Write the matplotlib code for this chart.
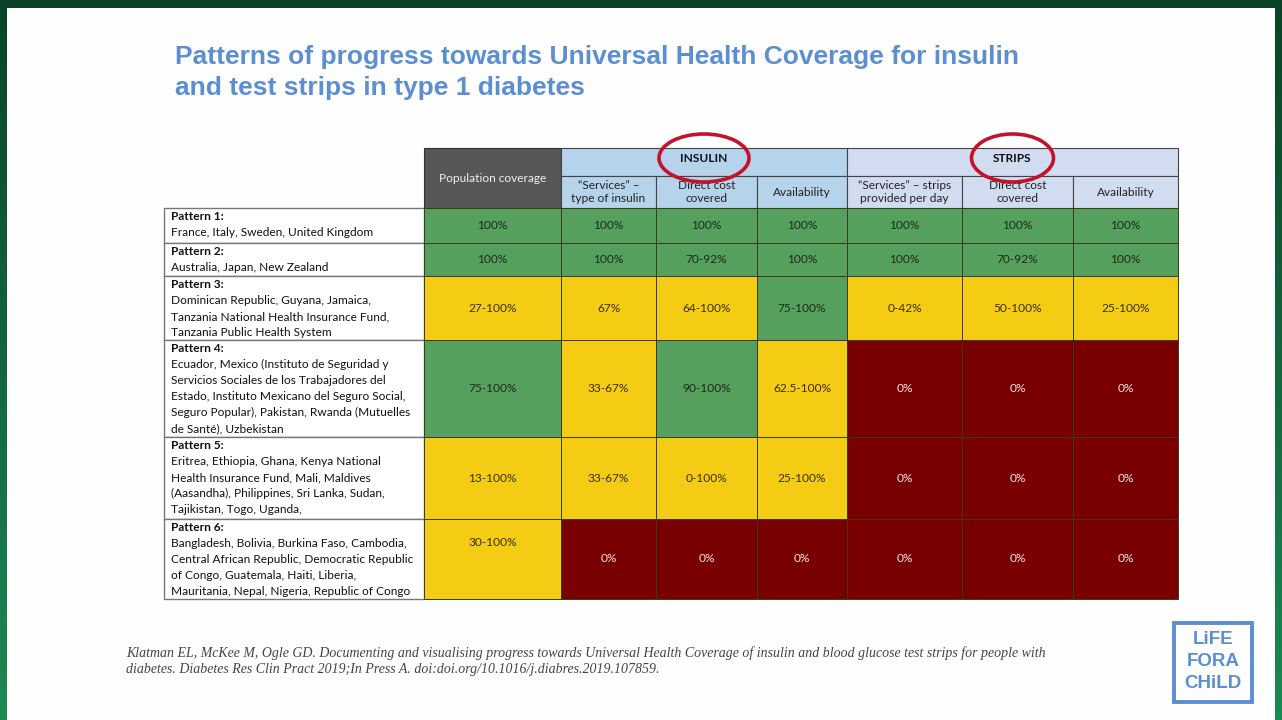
import matplotlib
matplotlib.use("Agg")
import matplotlib.pyplot as plt
import numpy as np
from matplotlib.patches import Rectangle, Ellipse
from matplotlib.colors import LinearSegmentedColormap

# ---------------- data ----------------
title_lines = ["Patterns of progress towards Universal Health Coverage for insulin",
               "and test strips in type 1 diabetes"]
group_labels = ["INSULIN", "STRIPS"]
column_labels = ["Population coverage",
                 "\u201cServices\u201d \u2013\ntype of insulin", "Direct cost\ncovered", "Availability",
                 "\u201cServices\u201d \u2013 strips\nprovided per day", "Direct cost\ncovered", "Availability"]
pattern_names = ["Pattern 1:", "Pattern 2:", "Pattern 3:", "Pattern 4:", "Pattern 5:", "Pattern 6:"]
pattern_countries = [
    ["France, Italy, Sweden, United Kingdom"],
    ["Australia, Japan, New Zealand"],
    ["Dominican Republic, Guyana, Jamaica,",
     "Tanzania National Health Insurance Fund,",
     "Tanzania Public Health System"],
    ["Ecuador, Mexico (Instituto de Seguridad y",
     "Servicios Sociales de los Trabajadores del",
     "Estado, Instituto Mexicano del Seguro Social,",
     "Seguro Popular), Pakistan, Rwanda (Mutuelles",
     "de Sant\u00e9), Uzbekistan"],
    ["Eritrea, Ethiopia, Ghana, Kenya National",
     "Health Insurance Fund, Mali, Maldives",
     "(Aasandha), Philippines, Sri Lanka, Sudan,",
     "Tajikistan, Togo, Uganda,"],
    ["Bangladesh, Bolivia, Burkina Faso, Cambodia,",
     "Central African Republic, Democratic Republic",
     "of Congo, Guatemala, Haiti, Liberia,",
     "Mauritania, Nepal, Nigeria, Republic of Congo"],
]
cell_values = [
    ["100%", "100%", "100%", "100%", "100%", "100%", "100%"],
    ["100%", "100%", "70-92%", "100%", "100%", "70-92%", "100%"],
    ["27-100%", "67%", "64-100%", "75-100%", "0-42%", "50-100%", "25-100%"],
    ["75-100%", "33-67%", "90-100%", "62.5-100%", "0%", "0%", "0%"],
    ["13-100%", "33-67%", "0-100%", "25-100%", "0%", "0%", "0%"],
    ["30-100%", "0%", "0%", "0%", "0%", "0%", "0%"],
]
# G = full coverage (green), Y = partial (yellow), R = none (red)
cell_status = [
    ["G", "G", "G", "G", "G", "G", "G"],
    ["G", "G", "G", "G", "G", "G", "G"],
    ["Y", "Y", "Y", "G", "Y", "Y", "Y"],
    ["G", "Y", "G", "Y", "R", "R", "R"],
    ["Y", "Y", "Y", "Y", "R", "R", "R"],
    ["Y", "R", "R", "R", "R", "R", "R"],
]
citation_lines = [
    "Klatman EL, McKee M, Ogle GD. Documenting and visualising progress towards Universal Health Coverage of insulin and blood glucose test strips for people with",
    "diabetes. Diabetes Res Clin Pract 2019;In Press A. doi:doi.org/10.1016/j.diabres.2019.107859.",
]
logo_lines = ["LiFE", "FORA", "CHiLD"]

# ---------------- style / layout ----------------
status_colors = {"G": "#55a05d", "Y": "#f5cc14", "R": "#780000"}
text_colors = {"G": "#1c2a1c", "Y": "#3a3000", "R": "#f2e6e6"}
blue = "#5b8fd2"
sans = ["Lato", "DejaVu Sans"]
fs = 8.6

col_edges = [164, 424, 561, 656, 757, 847, 962, 1073, 1178]
row_edges = [148, 176, 208, 243, 276, 340, 437, 519, 599]

W, H = 1282, 720
fig = plt.figure(figsize=(W / 100, H / 100), dpi=100)
ax = fig.add_axes([0, 0, 1, 1])
ax.set_xlim(0, W)
ax.set_ylim(H, 0)
ax.axis("off")

# slide frame (vertical gradient green behind white slide)
frame_cmap = LinearSegmentedColormap.from_list("frame", ["#0a4326", "#1c8a55"])
ax.imshow(np.linspace(0, 1, 256).reshape(-1, 1), cmap=frame_cmap, aspect="auto",
          extent=[0, W, H, 0], zorder=0)
ax.add_patch(Rectangle((7, 8), 1268, 712, facecolor="#fefefe", edgecolor="none", zorder=0.5))

# title
for i, line in enumerate(title_lines):
    ax.text(175, 57 + i * 31, line, fontsize=19, fontweight="bold", color=blue,
            family=["Liberation Sans", "DejaVu Sans"], va="center", ha="left")

# header
x0, x1 = col_edges[1], col_edges[2]
ax.add_patch(Rectangle((x0, row_edges[0]), x1 - x0, row_edges[2] - row_edges[0],
                       facecolor="#575757", edgecolor="#333333", lw=0.8, zorder=2))
ax.text((x0 + x1) / 2, (row_edges[0] + row_edges[2]) / 2, column_labels[0], color="#f0f0f0",
        fontsize=fs, family=sans, ha="center", va="center", zorder=3)

group_spans = [(2, 5), (5, 8)]
group_colors = ["#b6d3ec", "#d2dcf0"]
ellipse_sizes = [(90, 48), (82, 48)]
for g, (a, b) in enumerate(group_spans):
    gx0, gx1 = col_edges[a], col_edges[b]
    ax.add_patch(Rectangle((gx0, row_edges[0]), gx1 - gx0, row_edges[1] - row_edges[0],
                           facecolor=group_colors[g], edgecolor="#444444", lw=0.8, zorder=2))
    cx = (gx0 + gx1) / 2
    cy = (row_edges[0] + row_edges[1]) / 2
    ax.text(cx, cy - 3, group_labels[g], fontsize=fs, fontweight="bold", family=sans,
            color="#111111", ha="center", va="center", zorder=3)
    ew, eh = ellipse_sizes[g]
    ax.add_patch(Ellipse((cx, cy - 4), ew, eh, facecolor="none", edgecolor="#c4122c",
                         lw=2.6, zorder=5))
    for c in range(a, b):
        ax.add_patch(Rectangle((col_edges[c], row_edges[1]), col_edges[c + 1] - col_edges[c],
                               row_edges[2] - row_edges[1], facecolor=group_colors[g],
                               edgecolor="#444444", lw=0.8, zorder=2))
        ax.text((col_edges[c] + col_edges[c + 1]) / 2, (row_edges[1] + row_edges[2]) / 2,
                column_labels[c - 1], fontsize=fs, family=sans, color="#222222",
                ha="center", va="center", linespacing=1.2, zorder=3)

# body
for r in range(len(pattern_names)):
    y0, y1 = row_edges[r + 2], row_edges[r + 3]
    ax.add_patch(Rectangle((col_edges[0], y0), col_edges[1] - col_edges[0], y1 - y0,
                           facecolor="white", edgecolor="#777777", lw=1.0, zorder=2))
    ax.text(171, y0 + 8.5, pattern_names[r], fontsize=fs, fontweight="bold", family=sans,
            color="#111111", ha="left", va="center", zorder=3)
    for k, line in enumerate(pattern_countries[r]):
        ax.text(171, y0 + 8.5 + 16 * (k + 1), line, fontsize=fs, family=sans,
                color="#111111", ha="left", va="center", zorder=3)
    for c in range(len(column_labels)):
        st = cell_status[r][c]
        cx0, cx1 = col_edges[c + 1], col_edges[c + 2]
        ax.add_patch(Rectangle((cx0, y0), cx1 - cx0, y1 - y0, facecolor=status_colors[st],
                               edgecolor="#3a3a1a", lw=0.7, zorder=2))
        ty = (y0 + y1) / 2
        if r == len(pattern_names) - 1 and c == 0:
            ty = y0 + 24
        ax.text((cx0 + cx1) / 2, ty, cell_values[r][c], fontsize=fs, family=sans,
                color=text_colors[st], ha="center", va="center", zorder=3)

# citation
for i, line in enumerate(citation_lines):
    ax.text(126, 653 + i * 16, line, fontsize=10, style="italic", color="#444444",
            family=["Liberation Serif", "DejaVu Serif"], ha="left", va="center")

# logo
ax.add_patch(Rectangle((1174, 623), 78, 79, facecolor="none", edgecolor=blue, lw=2.8, zorder=3))
for i, line in enumerate(logo_lines):
    ax.text(1213, 640 + i * 22, line, fontsize=13.5, fontweight="bold", color=blue,
            family=["Liberation Sans", "DejaVu Sans"], ha="center", va="center", zorder=3)

fig.savefig("out.png", dpi=100)
